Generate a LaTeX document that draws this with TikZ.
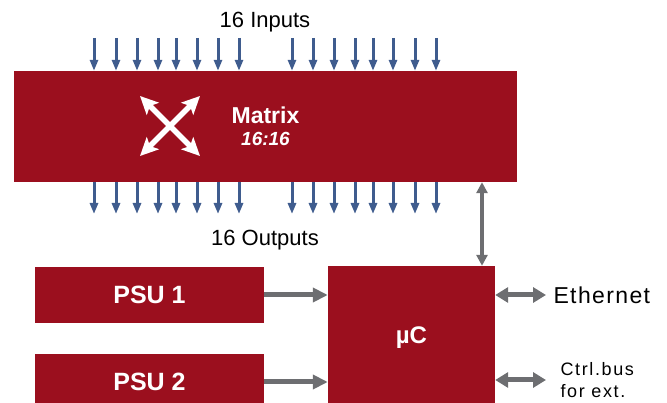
\documentclass[tikz,border=0pt]{standalone}
\usepackage{fontspec}
\setmainfont{Liberation Sans}
\newfontfamily\widefont[LetterSpace=6]{Liberation Sans}
\newfontfamily\widerfont[LetterSpace=9]{Liberation Sans}
\usetikzlibrary{arrows.meta}
\definecolor{boxred}{HTML}{9B0F1E}
\definecolor{pinblue}{HTML}{3F5C8E}
\definecolor{busgray}{HTML}{6D6E71}
\tikzset{
	block/.style={fill=boxred,inner sep=0pt,text=white},
	pin/.style={pinblue,line width=3pt,-{Triangle[length=11pt,width=8pt]}},
	feed/.style={busgray,line width=5pt,-{Triangle[length=15pt,width=14pt]}},
	link/.style={busgray,line width=5pt,{Triangle[length=13pt,width=15pt]}-{Triangle[length=13pt,width=15pt]}},
	updown/.style={busgray,line width=4pt,{Triangle[length=11pt,width=11pt]}-{Triangle[length=11pt,width=11pt]}},
	cross/.style={white,line width=5.5pt,{Stealth[length=18pt,width=17pt,inset=4pt]}-{Stealth[length=18pt,width=17pt,inset=4pt]}},
}
\begin{document}
\begin{tikzpicture}[x=1pt,y=-1pt]
	\useasboundingbox (0,0) rectangle (667,403);
	\clip (0,0) rectangle (667,403);
	% matrix block
	\node[block,minimum width=503pt,minimum height=111pt,align=center] (matrix) at (265.5,126.5)
		{{\bfseries\fontsize{23}{23}\selectfont Matrix}\\[7pt]{\bfseries\itshape\fontsize{19}{19}\selectfont 16:16}};
	\draw[cross] (140,96) -- (200,156);
	\draw[cross] (200,96) -- (140,156);
	\node[font=\fontsize{22}{22}\selectfont] (inlabel) at (265,22) {16 Inputs};
	\node[font=\fontsize{22}{22}\selectfont] (outlabel) at (265,240) {16 Outputs};
	% 16 in, 16 out
	\foreach \x [count=\i] in {94,116,137,158,176,197,218,239,292,313,334,355,373,393,415,436} {
		\coordinate (in\i) at (\x,38);
		\coordinate (out\i) at (\x,214);
		\draw[pin] (in\i) -- (in\i |- matrix.north);
		\draw[pin] (out\i |- matrix.south) -- (out\i);
	}
	% supply and controller
	\node[block,minimum width=229pt,minimum height=56pt,font=\bfseries\fontsize{25}{25}\selectfont] (psu1) at (149.5,295) {PSU 1};
	\node[block,minimum width=229pt,minimum height=56pt,font=\bfseries\fontsize{25}{25}\selectfont] (psu2) at (149.5,382) {PSU 2};
	\node[block,minimum width=167pt,minimum height=144pt,font=\bfseries\fontsize{24}{24}\selectfont] (uc) at (411.5,338) {µC};
	\node[anchor=west,font=\widefont\fontsize{23}{23}\selectfont] (eth) at (550,295) {Ethernet};
	\node[anchor=west,align=left,font=\widerfont\fontsize{18}{22}\selectfont] (ctrl) at (557,380) {Ctrl.bus\\for ext.};
	\coordinate (bus) at (482,0);
	\draw[feed] (psu1.east) -- (psu1.east -| uc.west);
	\draw[feed] (psu2.east) -- (psu2.east -| uc.west);
	\draw[link,shorten >=4pt] (uc.east |- eth.west) -- (eth.west);
	\draw[link,shorten >=11pt] (uc.east |- ctrl.west) -- (ctrl.west);
	\draw[updown] (bus |- matrix.south) -- (bus |- uc.north);
\end{tikzpicture}
\end{document}
